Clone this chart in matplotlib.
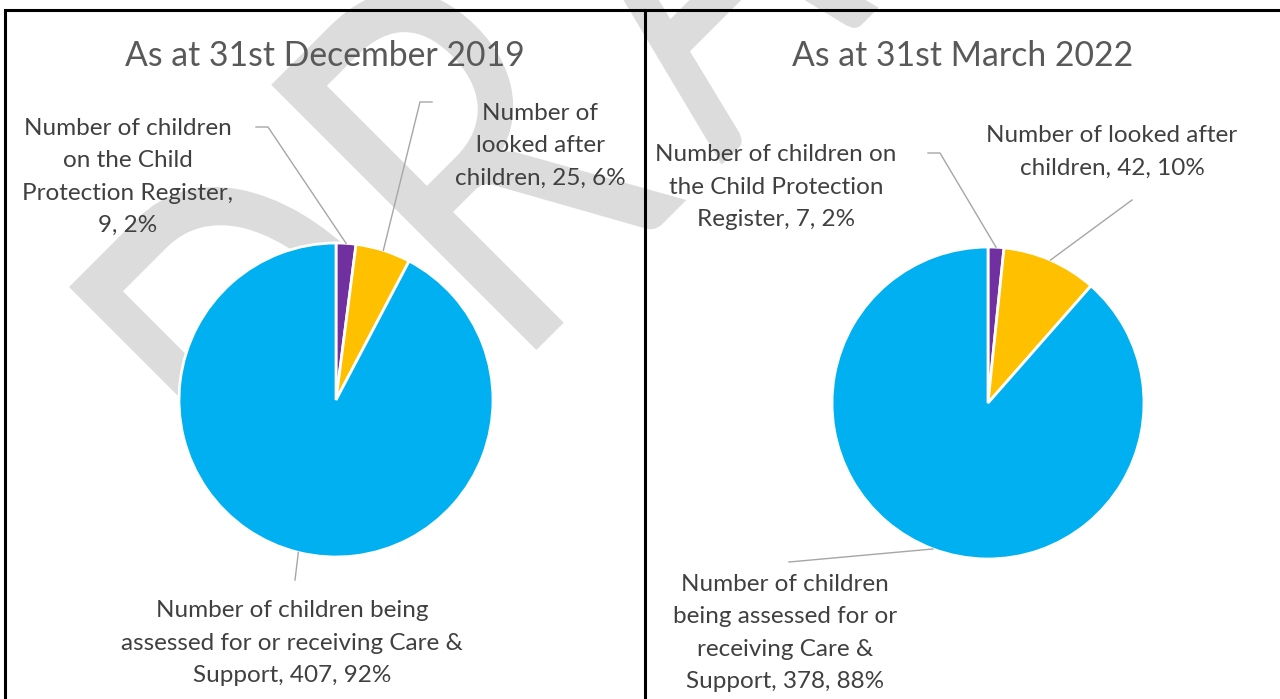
import numpy as np
import matplotlib
matplotlib.use("Agg")
import matplotlib.pyplot as plt
from matplotlib.textpath import TextPath
from matplotlib.patches import PathPatch
from matplotlib.font_manager import FontProperties
from matplotlib.transforms import Affine2D

plt.rcParams['font.family'] = ['Lato', 'DejaVu Sans']

# data
titles = ["As at 31st December 2019", "As at 31st March 2022"]
categories = ["Number of children on the Child Protection Register",
              "Number of looked after children",
              "Number of children being assessed for or receiving Care & Support"]
values_2019 = [9, 25, 407]
values_2022 = [7, 42, 378]
pct_2019 = ["2%", "6%", "92%"]
pct_2022 = ["2%", "10%", "88%"]
colors = ["#7030A0", "#FFC000", "#00B0F0"]

# label text as wrapped in the original
labels_2019 = ["Number of children\non the Child\nProtection Register,\n{}, {}",
               "Number of\nlooked after\nchildren, {}, {}",
               "Number of children being\nassessed for or receiving Care &\nSupport, {}, {}"]
labels_2022 = ["Number of children on\nthe Child Protection\nRegister, {}, {}",
               "Number of looked after\nchildren, {}, {}",
               "Number of children\nbeing assessed for or\nreceiving Care &\nSupport, {}, {}"]

W, H = 1280, 699
fig = plt.figure(figsize=(12.8, 6.99), dpi=100)
ax = fig.add_axes([0, 0, 1, 1])

def img(x, y):
    # image pixel coords (y down) -> axes units (y up)
    return x, H - y

# DRAFT watermark behind everything, letter by letter (rotated 45 deg)
fp = FontProperties(family='Lato')
dbox = TextPath((0, 0), "D", size=100, prop=fp).get_extents()
sy = 375 / dbox.height
ox, oy = img(69, 287)
wm_letters = ["D", "R", "A", "F", "T"]
wm_offsets = [0, 286, 548, 810, 1000]
wm_widths = [225, 212, 222, 170, 210]
for ch, off, wd in zip(wm_letters, wm_offsets, wm_widths):
    tp = TextPath((0, 0), ch, size=100, prop=fp)
    bb = tp.get_extents()
    tr = (Affine2D().translate(-bb.x0, -dbox.y1).scale(wd / bb.width, sy)
          .translate(off, 0).rotate_deg(45).translate(ox, oy))
    ax.add_patch(PathPatch(tr.transform_path(tp), facecolor="#dcdcdc",
                           edgecolor="none", zorder=0))

panels = [
    dict(title=titles[0], values=values_2019, pct=pct_2019, labels=labels_2019,
         center=(336, 400), radius=157, title_xy=(325, 56),
         text_xy=[(128, 177), (540, 146), (292, 643)],
         leader_start=[[(256, 127), (268, 127)], [(432, 102), (420, 102)], [(295, 580)]]),
    dict(title=titles[1], values=values_2022, pct=pct_2022, labels=labels_2022,
         center=(988, 403), radius=156, title_xy=(963, 56),
         text_xy=[(776, 187), (1112, 152), (785, 633)],
         leader_start=[[(928, 153), (940, 153)], [(1132, 200)], [(789, 562)]]),
]

for p in panels:
    cx, cy = img(*p["center"])
    r = p["radius"]
    ax.pie(p["values"], colors=colors, startangle=90, counterclock=False,
           center=(cx, cy), radius=r,
           wedgeprops=dict(edgecolor="white", linewidth=2, zorder=2))
    vals = np.array(p["values"], dtype=float)
    cum = np.cumsum(vals) - vals / 2
    mids = cum / vals.sum() * 2 * np.pi  # clockwise from top
    for i in range(len(vals)):
        ex = cx + r * np.sin(mids[i])
        ey = cy + r * np.cos(mids[i])
        pts = [img(*q) for q in p["leader_start"][i]] + [(ex, ey)]
        xs, ys = zip(*pts)
        ax.plot(xs, ys, color="#a6a6a6", linewidth=1, zorder=3)
        tx, ty = img(*p["text_xy"][i])
        ax.text(tx, ty, p["labels"][i].format(p["values"][i], p["pct"][i]),
                ha="center", va="center", fontsize=17.5, color="#404040",
                linespacing=1.66, zorder=4)
    tx, ty = img(*p["title_xy"])
    ax.text(tx, ty, p["title"], ha="center", va="center", fontsize=24.3,
            color="#595959", zorder=4)

# panel borders
ax.plot([5, 5, 1280], [0, img(5, 10)[1], img(5, 10)[1]],
        color="black", linewidth=2.2, zorder=5, solid_joinstyle="miter")
ax.plot([645, 645], [img(0, 10)[1], 0], color="black", linewidth=2.2, zorder=5)

ax.set_xlim(0, W)
ax.set_ylim(0, H)
ax.axis("off")

fig.savefig("out.png", dpi=100)
